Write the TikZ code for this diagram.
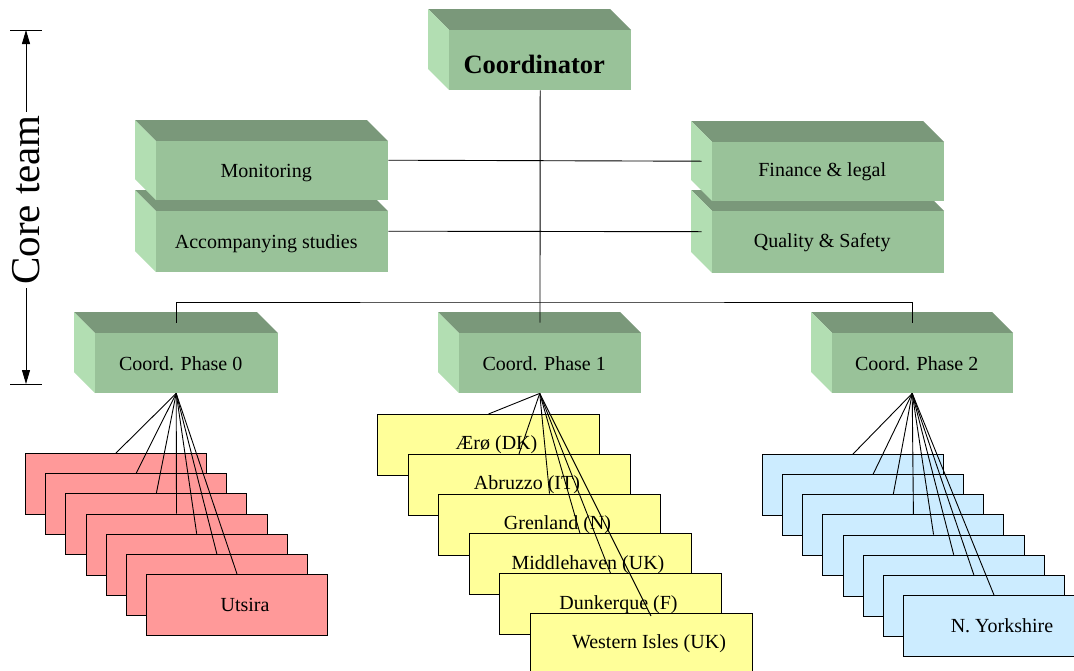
\documentclass[tikz,border=0pt]{standalone}
\usepackage{fontspec}
\setmainfont{Liberation Serif}[BoldFont={Liberation Serif Bold}]
\usetikzlibrary{arrows.meta,calc}
\definecolor{cfront}{HTML}{99C299}
\definecolor{ctop}{HTML}{7A987A}
\definecolor{cside}{HTML}{B2DEB2}
\definecolor{cred}{HTML}{FF9999}
\definecolor{cyel}{HTML}{FFFF99}
\definecolor{cblue}{HTML}{CCECFF}
\tikzset{
  cubefront/.style={fill=cfront, inner sep=0pt, anchor=north west, font=\fontsize{20}{24}\selectfont},
  flatbox/.style={draw=black, line width=1pt, minimum width=181pt, minimum height=61pt, inner sep=0pt, anchor=north west, font=\fontsize{20}{24}\selectfont},
  conn/.style={draw=black, line width=0.9pt},
  dimarrow/.style={draw=black, line width=0.9pt, -{Triangle[length=14pt,width=8pt]}}
}
\newcommand{\lowertext}[2]{\raisebox{-#1}[\height][\depth]{#2}}
% name, x1, y1, x2, y2, text
\newcommand{\cubeshape}[6]{%
  \fill[ctop] (#2,#3) -- ++(-21,-21) -- ({#4-21},{#3-21}) -- (#4,#3) -- cycle;
  \fill[cside] (#2,#3) -- ++(-21,-21) -- ({#2-21},{#5-21}) -- (#2,#5) -- cycle;
  \node[cubefront, minimum width={(#4-#2)*1pt}, minimum height={(#5-#3)*1pt}] (#1) at (#2,#3) {#6};
  \coordinate (#1-top) at ([xshift=-10.5pt,yshift=10.5pt]#1.north);
  \coordinate (#1-bot) at ([xshift=-10.5pt]#1.south);
  \coordinate (#1-right) at ([yshift=10.5pt]#1.east);
  \coordinate (#1-left) at ([xshift=-10.5pt,yshift=10.5pt]#1.west);
}
\begin{document}
\begin{tikzpicture}[x=1pt,y=-1pt]
\useasboundingbox (0,0) rectangle (1074,670);
\clip (0,0) rectangle (1074,670);

% Core team dimension
\coordinate (ctT) at (26,30);
\coordinate (ctB) at (26,384);
\draw[line width=0.9pt] ([xshift=-16pt]ctT) -- ([xshift=16pt]ctT);
\draw[line width=0.9pt] ([xshift=-16pt]ctB) -- ([xshift=16pt]ctB);
\node[rotate=90, inner sep=3pt, font=\fontsize{41}{44}\selectfont] (ct) at (26,200) {Core team};
\draw[dimarrow] (ct) -- (ctT);
\draw[dimarrow] (ct) -- (ctB);

% 3D boxes
\cubeshape{coord}{449}{30}{631}{90}{\hspace*{-12pt}\lowertext{4pt}{\fontsize{26.5}{30}\selectfont\bfseries Coordinator}}
\cubeshape{acc}{156}{211}{388}{272}{\hspace*{-12pt}\lowertext{2pt}{Accompanying studies}}
\cubeshape{mon}{156}{141}{388}{200}{\hspace*{-12pt}\lowertext{2pt}{Monitoring}}
\cubeshape{qual}{712}{211}{944}{273}{\hspace*{-12pt}Quality \& Safety}
\cubeshape{fin}{712}{142}{944}{201}{\hspace*{-12pt}Finance \& legal}
\cubeshape{p0}{95}{333}{278}{393}{\hspace*{-12pt}Coord. Phase 0}
\cubeshape{p1}{459}{333}{641}{393}{\hspace*{-12pt}Coord. Phase 1}
\cubeshape{p2}{832}{333}{1013}{393}{\hspace*{-12pt}Coord. Phase 2}

% upper connectors
\draw[conn] (mon-right) -- (fin-left);
\draw[conn] (acc-right) -- (qual-left);
\coordinate (bus) at (540,302);
\draw[conn] (coord.south) -- (bus) -- (bus |- p1-top);
\draw[conn] (p0-top) |- (bus) -| (p2-top);

% red stack
\foreach \i in {0,...,5}
  \node[flatbox, fill=cred] (r\i) at ({25+20.17*\i},{453+20.17*\i}) {};
\node[flatbox, fill=cred] (r6) at ({25+20.17*6},{453+20.17*6}) {\hspace*{16pt}Utsira};

% yellow stack
\tikzset{ybox/.style={flatbox, fill=cyel, minimum width=222pt}}
\node[ybox] (y0) at (377,414) {\hspace*{16pt}Ærø (DK)};
\node[ybox] (y1) at (407.5,453.8) {\hspace*{16pt}Abruzzo (IT)};
\node[ybox] (y2) at (438,493.6) {\hspace*{16pt}Grenland (N)};
\node[ybox] (y3) at (468.5,533.4) {\hspace*{16pt}Middlehaven (UK)};
\node[ybox] (y4) at (499,573.2) {\hspace*{16pt}Dunkerque (F)};
\node[ybox] (y5) at (529.5,613) {\hspace*{16pt}Western Isles (UK)};

% blue stack
\foreach \i in {0,...,6}
  \node[flatbox, fill=cblue] (b\i) at ({762+20.14*\i},{454+20.14*\i}) {};
\node[flatbox, fill=cblue] (b7) at ({762+20.14*7},{454+20.14*7}) {\hspace*{16pt}N. Yorkshire};

% lower connectors
\foreach \i in {0,...,6}
  \draw[conn] (p0-bot) -- (r\i.north);
\foreach \i in {0,...,4}
  \draw[conn] (p1-bot) -- (y\i.north);
\draw[conn] (p1-bot) -- ([xshift=10pt,yshift=-3pt]y5.north);
\foreach \i in {0,...,7}
  \draw[conn] (p2-bot) -- (b\i.north);
\end{tikzpicture}
\end{document}
